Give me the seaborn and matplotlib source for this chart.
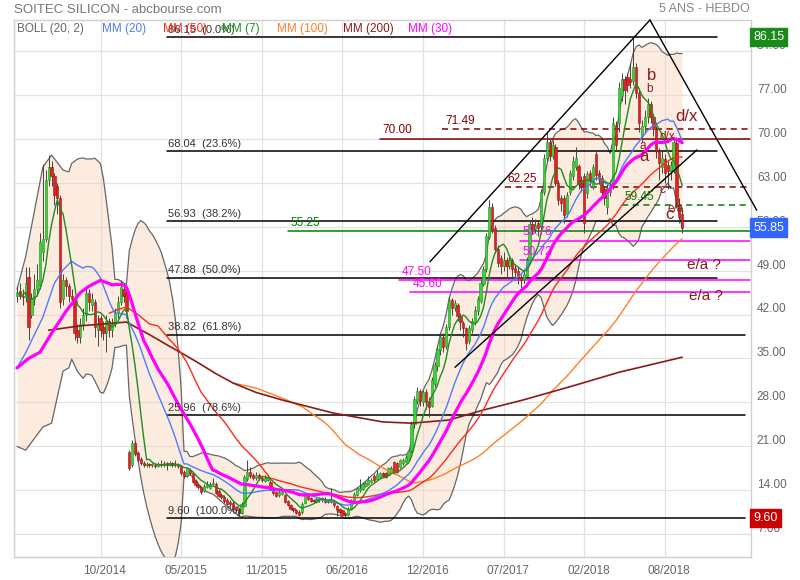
import numpy as np
import pandas as pd
import matplotlib
matplotlib.use("Agg")
import matplotlib.pyplot as plt
import matplotlib.transforms as mtransforms
import seaborn as sns

# ---------------- data (weekly candles) ----------------
opens = [45.0,45.8,45.0,44.8,48.0,42.0,44.5,46.0,46.5,52.0,54.0,63.5,65.5,64.0,62.5,60.5,44.5,47.5,46.5,45.0,
         44.5,39.5,38.5,40.5,42.0,45.5,43.5,44.0,39.5,41.5,40.0,39.0,41.0,39.5,40.5,42.3,44.0,46.0,45.5,20.1,
         18.0,21.5,20.0,19.0,18.3,18.0,18.2,18.0,18.1,17.9,18.2,18.0,18.3,18.1,18.3,18.0,18.2,17.9,17.0,16.3,
         17.3,16.8,15.5,14.9,14.5,13.9,14.5,14.4,15.0,15.0,13.9,13.3,13.0,12.5,12.2,12.0,11.3,11.0,10.4,11.5,
         15.8,17.0,16.5,15.9,16.4,16.0,15.5,15.7,15.4,14.2,13.7,13.2,13.4,13.3,12.3,11.7,11.2,10.9,10.6,10.5,
         12.0,13.3,12.8,12.5,12.2,12.4,12.4,12.7,12.5,12.2,12.3,11.5,11.0,10.8,10.4,10.1,11.0,12.3,13.3,14.0,
         14.2,14.7,15.0,15.3,16.3,15.8,16.2,16.8,16.7,16.5,17.0,18.5,18.3,17.7,18.3,18.5,18.8,20.3,24.5,28.2,
         29.8,28.0,29.7,28.2,27.5,31.0,33.8,36.3,38.4,37.0,40.0,44.3,43.0,43.5,41.8,40.6,39.8,37.8,39.5,40.8,
         42.6,44.2,46.8,49.2,54.3,59.2,55.8,52.5,51.0,49.8,50.7,49.8,50.7,49.4,49.0,48.0,47.6,48.2,50.7,56.4,
         55.6,56.5,56.0,61.5,67.0,69.5,67.2,68.7,63.0,60.5,60.5,58.0,61.5,64.0,65.5,65.7,63.5,64.0,61.3,64.5,
         62.3,67.5,64.5,63.8,62.0,59.2,61.5,62.5,72.2,72.5,76.8,79.5,79.8,79.5,79.2,81.4,77.3,70.5,72.0,73.5,
         75.5,73.5,71.5,68.0,65.5,66.8,65.8,64.8,65.0,69.3,59.5,58.0]
closes = [45.5,45.0,44.8,47.0,40.0,44.5,46.0,47.5,53.5,54.0,63.5,65.5,64.0,61.0,60.5,44.0,47.5,46.5,45.0,44.5,
          39.0,38.5,40.5,42.0,45.5,44.0,44.5,40.0,40.5,39.5,39.0,41.0,39.5,40.5,42.3,44.0,46.4,45.0,42.5,17.6,
          21.5,19.8,18.8,18.3,18.0,18.2,18.0,18.1,17.9,18.2,18.0,18.3,18.1,18.3,18.0,18.2,17.9,16.8,16.3,17.5,
          16.8,15.3,14.8,14.5,13.8,14.7,14.8,15.0,15.2,13.6,13.1,12.9,12.3,11.9,11.8,11.0,10.9,10.4,11.8,16.2,
          17.0,16.3,15.9,16.5,15.9,15.7,16.0,16.1,14.2,13.6,13.1,13.8,13.7,12.2,11.7,11.1,10.8,10.4,10.1,11.9,
          13.4,12.6,12.3,12.3,12.7,12.7,12.8,12.2,12.2,12.7,11.6,10.8,10.5,10.1,10.0,11.0,12.4,13.5,14.3,14.4,
          15.0,15.1,15.7,15.7,15.6,16.6,16.8,16.3,16.2,17.5,17.6,16.8,17.0,18.8,18.9,19.3,20.3,24.5,28.5,29.8,
          28.2,29.7,28.0,27.2,31.5,34.0,36.5,38.4,36.8,40.0,44.3,43.0,43.8,41.8,40.8,39.8,37.5,39.8,41.0,42.8,
          44.5,47.0,49.2,54.5,59.2,55.5,52.5,50.2,49.8,50.7,49.8,50.7,49.2,48.8,47.8,47.5,48.5,50.7,56.4,55.6,
          56.3,55.8,61.5,67.0,69.5,67.2,69.0,63.0,60.2,59.8,57.8,61.0,64.5,66.5,67.0,62.8,62.5,56.6,64.3,63.3,
          65.5,64.2,63.6,61.5,60.5,62.2,62.5,72.5,69.0,78.0,79.5,77.8,78.5,79.0,81.4,77.3,72.5,72.0,73.5,75.5,
          73.5,71.5,68.0,66.2,67.0,64.5,64.8,65.8,69.5,59.8,57.5,55.85]
highs = [46.5,47.0,46.0,49.5,49.5,45.5,48.5,50.0,55.0,66.0,65.0,67.4,66.5,64.5,63.0,61.0,48.5,48.0,47.0,46.0,
         45.0,40.5,41.5,43.0,46.5,46.0,45.5,44.5,42.0,42.0,41.0,42.0,41.5,41.5,43.0,45.0,47.5,47.0,46.0,20.5,
         22.0,21.8,20.3,19.3,18.6,18.5,18.4,18.4,18.3,18.5,18.8,18.6,18.5,18.6,18.5,18.9,18.4,18.0,17.2,17.8,
         17.5,17.0,15.8,15.2,14.7,15.0,15.5,15.4,16.0,15.3,14.2,13.6,13.2,12.8,12.4,12.3,11.5,11.2,12.1,16.5,
         18.8,17.8,16.8,16.9,16.7,16.3,16.4,16.5,15.6,14.5,13.9,14.4,14.0,13.5,12.5,11.9,11.4,11.1,10.8,12.1,
         13.7,13.5,13.0,12.7,12.9,12.9,13.0,12.9,12.6,14.4,12.4,11.6,11.2,10.9,10.5,11.3,12.6,13.8,14.6,15.8,
         15.3,15.5,16.3,16.0,16.6,17.2,17.0,17.0,16.9,17.7,17.9,18.7,18.5,19.0,19.2,19.6,20.6,25.0,29.0,30.5,
         30.2,30.0,30.2,28.8,32.0,34.5,37.0,39.0,39.0,40.5,44.8,44.6,44.3,43.8,42.2,41.0,40.0,40.3,41.5,43.3,
         45.0,47.5,49.8,55.0,60.2,59.8,56.2,53.0,51.5,52.0,51.2,51.5,51.0,50.0,49.5,48.5,49.0,51.2,57.0,57.5,
         57.2,57.0,62.0,67.5,71.0,70.0,69.8,69.2,63.5,61.0,61.0,61.5,65.0,67.2,68.7,66.0,64.0,64.5,64.8,65.0,
         66.0,68.0,65.0,64.2,62.5,62.8,63.5,73.5,72.8,79.0,80.5,80.0,80.5,82.0,86.15,82.0,78.0,73.0,74.5,76.5,
         76.0,74.0,72.0,68.5,68.0,67.5,66.5,66.5,70.0,69.8,60.5,59.0]
lows = [44.0,44.5,43.5,44.0,38.0,41.5,43.5,45.0,46.0,50.5,53.5,62.5,62.5,59.5,58.0,43.0,43.5,45.0,44.0,43.5,
        38.0,37.5,37.5,39.5,41.0,42.5,42.5,38.5,37.0,38.5,38.0,36.0,38.5,38.5,40.0,41.5,43.5,44.0,41.5,17.3,
        17.8,19.5,18.5,18.0,17.7,17.8,17.7,17.8,17.6,17.7,17.8,17.8,17.2,17.9,17.8,17.8,17.6,16.5,16.0,16.1,
        16.4,15.1,14.5,14.2,13.5,13.7,14.3,14.2,14.8,13.4,12.9,12.6,12.0,11.6,11.5,10.8,10.6,9.6,10.2,11.3,
        15.5,16.0,15.6,15.7,15.6,15.4,15.3,15.5,14.0,13.3,12.9,13.0,13.2,12.0,11.5,10.9,10.5,10.2,9.9,10.3,
        11.8,12.4,12.1,12.0,12.0,12.2,12.2,12.0,12.0,12.0,11.4,9.9,10.3,9.9,9.7,9.9,10.8,12.1,13.1,13.8,
        14.0,14.5,14.8,15.1,15.4,15.6,16.0,16.1,16.0,16.3,16.8,16.6,16.7,17.5,18.1,18.3,18.6,20.0,24.0,27.8,
        27.5,27.5,27.0,25.7,27.2,30.5,33.0,35.5,36.0,36.5,39.5,42.0,42.5,41.0,39.5,38.5,36.4,37.3,39.0,40.3,
        42.0,43.8,46.5,48.8,54.0,55.0,51.8,49.5,48.5,49.0,48.0,49.2,48.0,47.5,46.8,46.2,47.0,47.8,50.3,54.8,
        55.0,54.5,55.5,61.0,66.5,66.5,66.8,62.5,59.5,58.5,56.6,57.5,61.0,63.5,65.0,62.0,61.5,55.0,60.5,62.5,
        62.0,63.5,62.8,60.5,59.5,58.0,60.8,62.0,68.0,71.0,76.0,75.5,77.5,78.0,78.5,76.5,71.0,69.5,71.0,72.5,
        72.5,70.5,67.0,63.5,64.5,63.0,62.0,63.5,64.5,59.0,56.5,55.0]

# x tick labels (week index of each vertical grid line)
tick_pos = [29, 57, 85, 113, 141, 169, 197, 225]
tick_labels = ["10/2014", "05/2015", "11/2015", "06/2016", "12/2016", "07/2017", "02/2018", "08/2018"]
y_ticks = [7, 14, 21, 28, 35, 42, 49, 56, 63, 70, 77, 84]

mm200_i = [11, 22, 38, 46, 52, 57, 63, 69, 75, 83, 92, 110, 127, 137, 150, 162, 175, 192, 209, 231]
mm200_v = [39.5, 40.2, 40.8, 38.8, 37.2, 35.9, 34.3, 32.6, 31.1, 29.6, 28.4, 26.3, 24.9, 24.7, 25.2, 26.8, 28.3, 30.5, 32.8, 35.2]
mm100_early_i = [75, 83, 92]
mm100_early_v = [31.1, 30.3, 28.7]
mm50_early_i = [32, 35, 38, 42, 46]
mm50_early_v = [42.2, 42.8, 43.2, 42.0, 40.5]
mm30_early_i = [0, 4, 8, 12, 17, 22, 25]
mm30_early_v = [33.5, 35.0, 36.0, 39.0, 42.5, 45.5, 46.5]
mm20_early_i = [0, 3, 9, 13, 16]
mm20_early_v = [33.5, 35.9, 41.6, 47.0, 49.1]
boll_early_i = [0, 3, 9, 12, 16, 18]
boll_up_early = [46.0, 51.2, 65.5, 67.4, 65.0, 64.7]
boll_lo_early = [21.0, 20.4, 24.1, 24.7, 33.0, 33.5]

# fibonacci retracement levels
fib_levels = [86.15, 68.04, 56.93, 47.88, 38.82, 25.96, 9.60]
fib_pcts = ["0.0%", "23.6%", "38.2%", "50.0%", "61.8%", "78.6%", "100.0%"]

# ---------------- style ----------------
sns.set_style("white")
plt.rcParams["font.family"] = ["Liberation Sans", "DejaVu Sans"]

W, H = 800, 580
fig = plt.figure(figsize=(8, 5.8), dpi=100)
ax = fig.add_axes([14 / W, 1 - 557 / H, (751 - 14) / W, (557 - 20) / H])

N = len(closes)
idx = np.arange(N)
s = pd.Series(closes)
mm7 = s.rolling(7, min_periods=1).mean()
mm20 = s.rolling(20).mean()
mm30 = s.rolling(30).mean()
mm50 = s.rolling(50).mean()
mm100 = s.rolling(100).mean()
sd20 = s.rolling(20).std(ddof=0)
bu = mm20 + 2 * sd20
bl = mm20 - 2 * sd20

def join(ei, ev, full, start):
    xs = list(ei) + list(idx[start:])
    ys = list(ev) + list(full[start:])
    return np.array(xs, float), np.array(ys, float)

bx, bup = join(boll_early_i, boll_up_early, bu.values, 19)
_, blo = join(boll_early_i, boll_lo_early, bl.values, 19)

ax.set_xlim(-1.04, 254.9)
ax.set_ylim(3.39, 88.9)

# Bollinger band
ax.fill_between(bx, blo, bup, color="#F9C9A8", alpha=0.35, lw=0, zorder=1)
ax.plot(bx, bup, color="#666666", lw=0.9, zorder=1.5)
ax.plot(bx, blo, color="#666666", lw=0.9, zorder=1.5)

# grid
ax.set_xticks(tick_pos)
ax.set_yticks(y_ticks)
ax.grid(True, color="#e2e2e2", lw=0.9, zorder=1.2)
ax.tick_params(length=0, labelbottom=False, labelleft=False)
for sp in ax.spines.values():
    sp.set_color("#d0d0d0")
    sp.set_linewidth(1)

# fibonacci lines
fib_start = 52.0
for lv, pc in zip(fib_levels, fib_pcts):
    end = 243.0 if lv > 45 else 252.8
    ax.plot([fib_start, end], [lv, lv], color="black", lw=1.1, zorder=2)
    ax.text(fib_start + 0.3, lv + 0.35, f"{lv:.2f}  ({pc})", fontsize=8, color="#333333",
            ha="left", va="bottom", zorder=6)

# extra horizontal levels
hl_levels = [70.00, 71.49, 62.25, 59.45, 55.25, 53.76, 50.72, 47.50, 45.60]
hl_start = [126.0, 147.6, 169.4, 210.0, 94.1, 174.7, 174.7, 132.6, 136.5]
hl_colors = ["#800000", "#800000", "#800000", "#008000", "#008000", "#FF00FF", "#FF00FF", "#FF00FF", "#FF00FF"]
hl_styles = ["-", (0, (4, 3)), (0, (4, 3)), (0, (4, 3)), "-", "-", "-", "-", "-"]
for lv, st, c, ls in zip(hl_levels, hl_start, hl_colors, hl_styles):
    ax.plot([st, 254.5], [lv, lv], color=c, lw=1.1, ls=ls, zorder=2.2)
    ax.text(st + 1.0, lv + 0.35, f"{lv:.2f}", fontsize=8.5, color=c, ha="left", va="bottom", zorder=6)

# candles
o = np.array(opens); c = np.array(closes)
up = c >= o
ax.vlines(idx, lows, highs, color="#444444", lw=0.7, zorder=2.8)
body_b = np.minimum(o, c)
body_h = np.maximum(np.abs(c - o), 0.12)
ax.bar(idx[up], body_h[up], bottom=body_b[up], width=0.78, color="#36D636", edgecolor="#1f8f1f", lw=0.4, zorder=3)
ax.bar(idx[~up], body_h[~up], bottom=body_b[~up], width=0.78, color="#E02222", edgecolor="#9a1010", lw=0.4, zorder=3)

# moving averages (seaborn lines)
def sline(xs, ys, color, lw, z):
    df = pd.DataFrame({"x": xs, "y": ys}).dropna()
    sns.lineplot(data=df, x="x", y="y", ax=ax, color=color, lw=lw, zorder=z, sort=True, estimator=None)

x100, y100 = join(mm100_early_i, mm100_early_v, mm100.values, 99)
sline(x100, y100, "#FF7F27", 1.0, 4)
sline(np.array(mm200_i, float), np.array(mm200_v, float), "#8B1A1A", 1.2, 4)
x50, y50 = join(mm50_early_i, mm50_early_v, mm50.values, 49)
sline(x50, y50, "#FF2A1A", 1.0, 4.1)
x20, y20 = join(mm20_early_i, mm20_early_v, mm20.values, 19)
sline(x20, y20, "#4D7CFF", 1.0, 4.2)
sline(idx, mm7.values, "#1E8C1E", 1.0, 4.3)
x30, y30 = join(mm30_early_i, mm30_early_v, mm30.values, 29)
sline(x30, y30, "#FF00FF", 2.3, 4.4)
ax.set_xlabel(""); ax.set_ylabel("")

# trend lines (wedge / channel)
tl_x = [[143.4, 219.8], [152.1, 236.1], [219.8, 256.9]]
tl_y = [[50.4, 88.9], [33.6, 68.2], [88.9, 58.6]]
for xs, ys in zip(tl_x, tl_y):
    ax.plot(xs, ys, color="black", lw=1.0, zorder=5, clip_on=False)

# wave labels
wl_txt = ["b", "b", "d/x", "d/x", "a", "a", "c", "e/a", "c", "e/a ?", "e/a ?"]
wl_x = [220.5, 219.8, 232.6, 226.0, 217.4, 217.7, 224.3, 228.8, 226.7, 238.5, 239.2]
wl_y = [80.1, 77.9, 73.5, 70.3, 68.8, 67.1, 61.8, 58.8, 57.9, 49.9, 44.95]
wl_fs = [12, 8.5, 12, 8.5, 8.5, 12, 8.5, 8.5, 12, 11, 11]
for t, x, y, f in zip(wl_txt, wl_x, wl_y, wl_fs):
    ax.text(x, y, t, fontsize=f, color="#8B1A1A", ha="center", va="center", zorder=6)

# right axis labels
tr = mtransforms.blended_transform_factory(ax.transAxes, ax.transData)
for v in y_ticks:
    ax.text(1.008, v - 0.15, f"{v:.2f}", transform=tr, fontsize=8.5, color="#666666",
            ha="left", va="bottom", clip_on=False)
# last / max / min value boxes
box_v = [86.15, 55.85, 9.60]
box_c = ["#1a8a1a", "#3366FF", "#CC0000"]
for v, col in zip(box_v, box_c):
    ax.text(1.003, v, f"{v:.2f}", transform=tr, fontsize=9, color="white", ha="left", va="center",
            zorder=10, clip_on=False,
            bbox=dict(boxstyle="square,pad=0.25", fc=col, ec=col))

# x labels
trx = mtransforms.blended_transform_factory(ax.transData, ax.transAxes)
for p, lab in zip(tick_pos, tick_labels):
    ax.text(p + 1.5, -0.015, lab, transform=trx, fontsize=8.5, color="#666666", ha="center", va="top")

# titles and legend row
fig.text(14 / W, 1 - 10 / H, "SOITEC SILICON - abcbourse.com", fontsize=9.5, color="#777777", va="center")
fig.text(750 / W, 1 - 9 / H, "5 ANS - HEBDO", fontsize=9, color="#888888", va="center", ha="right")
leg_txt = ["BOLL (20, 2)", "MM (20)", "MM (50)", "MM (7)", "MM (100)", "MM (200)", "MM (30)"]
leg_col = ["#666666", "#4D7CFF", "#FF2A1A", "#1E8C1E", "#FF7F27", "#8B1A1A", "#FF00FF"]
leg_x = [17, 102, 163, 222, 277, 343, 408]
for t, c_, x in zip(leg_txt, leg_col, leg_x):
    fig.text(x / W, 1 - 29 / H, t, fontsize=8.5, color=c_, va="center", ha="left")

fig.savefig("out.png", dpi=100)
